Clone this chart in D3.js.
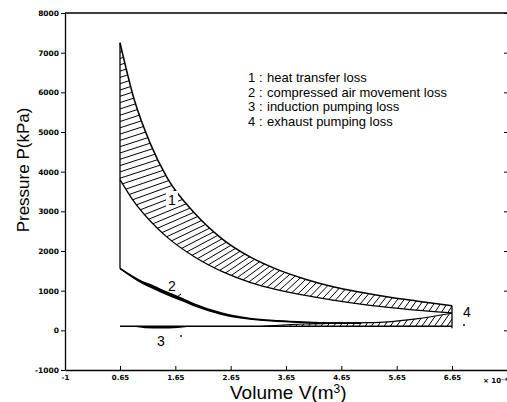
<!DOCTYPE html>
<html>
<head>
<meta charset="utf-8">
<script src="https://cdn.jsdelivr.net/npm/d3@7/dist/d3.min.js"></script>
<style>
body { margin: 0; background: #fff; }
svg { display: block; }
</style>
</head>
<body>
<svg id="main" width="507" height="402"></svg>
<script>
// volume in 10^-4 m3, pressure in kPa
var vol = [0.65, 0.9, 1.2, 1.5, 2.0, 2.5, 3.0, 3.5, 4.0, 4.5, 5.0, 5.5, 6.0, 6.65];
var pUpper = [7250, 5850, 4700, 3850, 2950, 2300, 1850, 1530, 1290, 1100, 960, 840, 740, 620];
var pLower = [3800, 3250, 2750, 2350, 1850, 1480, 1210, 1020, 880, 760, 660, 580, 510, 440];

// compression curve (loss 2 is the thin strip between the two)
var volComp = [0.65, 1.05, 1.2, 1.5, 1.75, 2.0, 2.5, 3.0, 3.5, 4.0, 4.5, 5.0];
var pCompA = [1560, 1230, 1150, 960, 820, 660, 430, 300, 240, 205, 185, 180];
var pCompB = [1560, 1190, 1090, 900, 765, 615, 400, 283, 228, 198, 182, 178];

var volIntake = [0.65, 6.65];
var pIntake = [100, 100];

var vol3 = [0.85, 1.1, 1.4, 1.7, 1.95];
var p3 = [100, 55, 45, 60, 100];

var vol4 = [3.2, 4.0, 4.5, 5.0, 5.5, 6.0, 6.65];
var p4 = [100, 160, 178, 190, 215, 290, 430];

var pTicks = [-1000, 0, 1000, 2000, 3000, 4000, 5000, 6000, 7000, 8000];
var vTicks = [0.65, 1.65, 2.65, 3.65, 4.65, 5.65, 6.65];
var vTickLabels = ["0.65", "1.65", "2.65", "3.65", "4.65", "5.65", "6.65"];

var legend = ["heat transfer loss", "compressed air movement loss", "induction pumping loss", "exhaust pumping loss"];

window.onload = function() {
var svg = d3.select("#main");
svg.append("rect").attr("width", 507).attr("height", 402).attr("fill", "#fff");

var x = d3.scaleLinear().domain([0.65, 6.65]).range([120, 452]);
var y = d3.scaleLinear().domain([-1000, 8000]).range([370, 13]);
var vLeft = x.invert(65), vRight = x.invert(507);
x.domain([vLeft, vRight]).range([65, 507]);

var tickFont = "'DejaVu Sans', sans-serif";

// y axis
var gy = svg.append("g").attr("transform", "translate(65,0)")
	.call(d3.axisLeft(y).tickValues(pTicks).tickSize(4).tickSizeOuter(0).tickFormat(function(d){ return String(d); }));
gy.selectAll("text").attr("font-family", tickFont).attr("font-size", 7.5).attr("font-weight", "bold").attr("x", -6);

// right side ticks (frame edge is just off the picture)
svg.append("g").attr("transform", "translate(509,0)")
	.call(d3.axisRight(y).tickValues(pTicks).tickSize(-5).tickSizeOuter(0).tickFormat(""));

// x axis, ticks pointing up
var gx = svg.append("g").attr("transform", "translate(0,370)")
	.call(d3.axisBottom(x).tickValues([vLeft].concat(vTicks)).tickSizeInner(-4).tickSizeOuter(0)
		.tickFormat(function(d, i){ return i == 0 ? "-1" : vTickLabels[i-1]; }));
gx.selectAll("text").attr("font-family", tickFont).attr("font-size", 7).attr("font-weight", "bold").attr("y", 5);
gx.selectAll(".tick").filter(function(d, i){ return i == 0; }).select("line").remove();

// top frame line
svg.append("line").attr("x1", 65).attr("x2", 507).attr("y1", y(8000)).attr("y2", y(8000))
	.attr("stroke", "#000").attr("stroke-width", 1.3);
svg.selectAll(".domain").attr("stroke-width", 1.3);

svg.append("text").attr("x", 483).attr("y", 383).attr("font-family", tickFont).attr("font-size", 7)
	.attr("font-weight", "bold").text("\u00d7 10\u207b\u2074");

// axis titles
svg.append("text").attr("transform", "translate(29,170) rotate(-90)").attr("text-anchor", "middle")
	.attr("font-family", "'Liberation Sans', Arial, sans-serif").attr("font-size", 17).text("Pressure  P(kPa)");
var xt = svg.append("text").attr("x", 230).attr("y", 399)
	.attr("font-family", "'Liberation Sans', Arial, sans-serif").attr("font-size", 19);
xt.append("tspan").text("Volume  V(m");
xt.append("tspan").attr("dy", -6).attr("font-size", 12).text("3");
xt.append("tspan").attr("dy", 6).text(")");

var defs = svg.append("defs");

// ---- band 1 (heat transfer loss)
var band = vol.map(function(v, i){ return {v: v, hi: pUpper[i], lo: pLower[i]}; });
var area1 = d3.area().curve(d3.curveMonotoneX)
	.x(function(d){ return x(d.v); }).y0(function(d){ return y(d.lo); }).y1(function(d){ return y(d.hi); });
defs.append("clipPath").attr("id", "clip1").append("path").attr("d", area1(band));

var lineHi = d3.line().curve(d3.curveMonotoneX).x(function(d){ return x(d.v); }).y(function(d){ return y(d.hi); });
var lineLo = d3.line().curve(d3.curveMonotoneX).x(function(d){ return x(d.v); }).y(function(d){ return y(d.lo); });

var innerD = "M" + x(vol[0]) + "," + y(pUpper[0]) + "L" + lineLo(band).slice(1);
var angle1 = d3.scaleLinear().domain([120, 200, 300, 452]).range([18, 30, 45, 58]).clamp(true);
hatch(svg, innerD, 6.3, angle1, 90, "clip1");

// ---- region 4 (exhaust pumping loss)
var reg4 = vol4.map(function(v, i){ return {v: v, hi: p4[i], lo: pIntake[0]}; });
defs.append("clipPath").attr("id", "clip4").append("path").attr("d", area1(reg4));
var inner4 = "M" + x(vol4[0]) + "," + y(pIntake[0]) + "L" + x(6.65) + "," + y(pIntake[0]);
hatch(svg, inner4, 6.3, function(){ return 55; }, 30, "clip4");

// ---- region 3 (induction pumping loss)
var reg3 = vol3.map(function(v, i){ return {v: v, hi: pIntake[0], lo: p3[i]}; });
svg.append("path").attr("d", area1(reg3)).attr("fill", "#000");

// ---- compression strip (loss 2)
var comp = volComp.map(function(v, i){ return {v: v, hi: pCompA[i], lo: pCompB[i]}; });
svg.append("path").attr("d", area1(comp)).attr("fill", "#000");

// outlines
var stroke = function(sel, w){ return sel.attr("fill", "none").attr("stroke", "#000").attr("stroke-width", w); };
stroke(svg.append("path").attr("d", lineHi(comp)), 1.4);
stroke(svg.append("path").attr("d", lineLo(comp)), 1.4);
stroke(svg.append("path").attr("d", lineHi(band)), 1.5);
stroke(svg.append("path").attr("d", lineLo(band)), 1.3);
stroke(svg.append("path").attr("d", lineHi(reg4)), 1.2);
var intake = d3.line().x(function(d){ return x(d); }).y(function(d, i){ return y(pIntake[i]); });
stroke(svg.append("path").attr("d", intake(volIntake)), 1.5);
// vertical lines at both ends
stroke(svg.append("line").attr("x1", x(vol[0])).attr("x2", x(vol[0]))
	.attr("y1", y(pUpper[0])).attr("y2", y(pCompA[0])), 1.3);
stroke(svg.append("line").attr("x1", x(6.65)).attr("x2", x(6.65))
	.attr("y1", y(pUpper[pUpper.length-1])).attr("y2", y(pIntake[0]) + 2), 1.3);

// region labels
var lab = function(tx, ty, t){
	svg.append("text").attr("x", tx).attr("y", ty).attr("text-anchor", "middle")
		.attr("font-family", "'Liberation Sans', Arial, sans-serif").attr("font-size", 14).text(t);
};
svg.append("rect").attr("x", 166).attr("y", 191).attr("width", 12).attr("height", 16).attr("fill", "#fff");
lab(172, 205, "1");
lab(172, 291, "2");
lab(161, 346, "3");
lab(467, 317, "4");
stroke(svg.append("line").attr("x1", 177).attr("y1", 297).attr("x2", 181).attr("y2", 294), 1);
svg.append("circle").attr("cx", 181).attr("cy", 336).attr("r", 0.9).attr("fill", "#000");
svg.append("circle").attr("cx", 464).attr("cy", 325).attr("r", 0.9).attr("fill", "#000");

// legend
var lg = svg.append("g").attr("font-family", "'Liberation Sans', Arial, sans-serif").attr("font-size", 13);
legend.forEach(function(t, i){
	var yy = 82 + i * 14.5;
	lg.append("text").attr("x", 248).attr("y", yy).text(i + 1);
	lg.append("text").attr("x", 259).attr("y", yy).text(":");
	lg.append("text").attr("x", 267).attr("y", yy).text(t);
});
};

// hatch lines anchored along a path, going up-right, clipped to a region
function hatch(svg, d, step, angleFn, len, clipId) {
	var tmp = svg.append("path").attr("d", d).attr("fill", "none");
	var node = tmp.node();
	var L = node.getTotalLength();
	var segs = [];
	for (var s = step / 2; s < L; s += step) {
		var p = node.getPointAtLength(s);
		var a = angleFn(p.x) * Math.PI / 180;
		segs.push([p.x - 4 * Math.cos(a), p.y + 4 * Math.sin(a), p.x + len * Math.cos(a), p.y - len * Math.sin(a)]);
	}
	tmp.remove();
	svg.append("g").attr("clip-path", "url(#" + clipId + ")")
		.selectAll("line").data(segs).join("line")
		.attr("x1", function(q){ return q[0]; }).attr("y1", function(q){ return q[1]; })
		.attr("x2", function(q){ return q[2]; }).attr("y2", function(q){ return q[3]; })
		.attr("stroke", "#000").attr("stroke-width", 1);
}
</script>
</body>
</html>
